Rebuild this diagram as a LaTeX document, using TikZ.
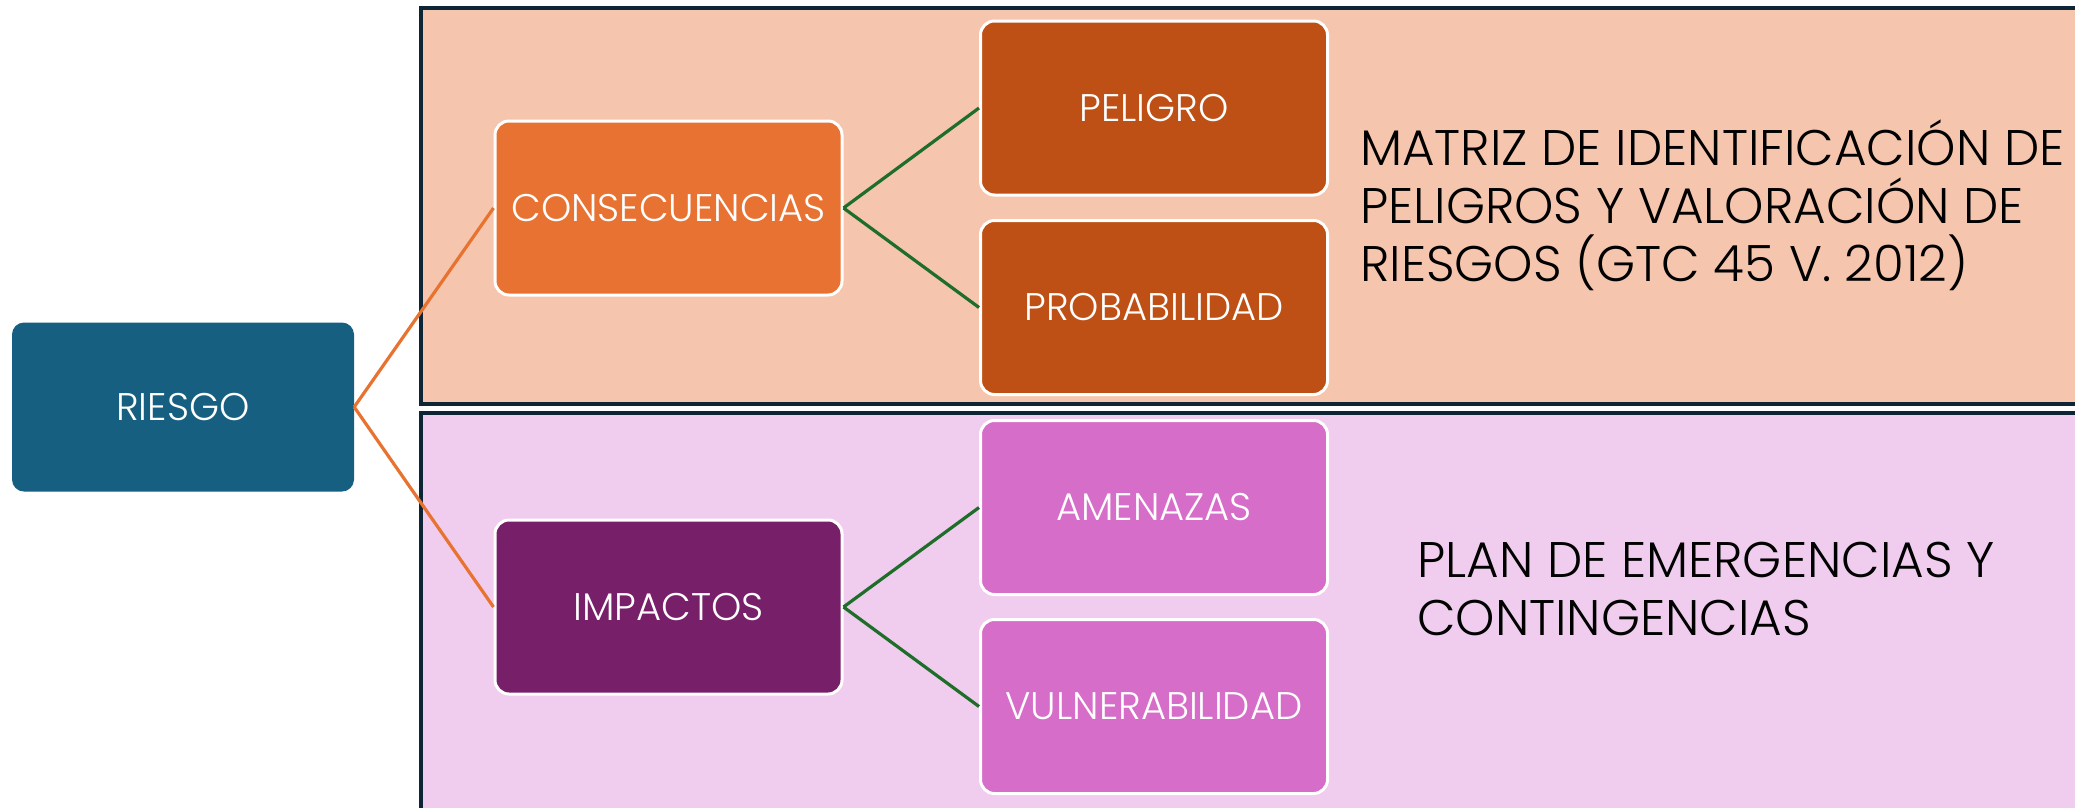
\documentclass[tikz,border=0pt]{standalone}
\usepackage{fontspec}
\IfFontExistsTF{Poppins Light}{\setmainfont{Poppins Light}}{\setmainfont{Poppins}}
\definecolor{peachbg}{HTML}{F5C6AD}
\definecolor{pinkbg}{HTML}{F0CDEE}
\definecolor{panelline}{HTML}{0E2536}
\definecolor{rootfill}{HTML}{175F80}
\definecolor{consfill}{HTML}{E87232}
\definecolor{rustfill}{HTML}{BE4F15}
\definecolor{plumfill}{HTML}{771F69}
\definecolor{orchidfill}{HTML}{D66DC8}
\definecolor{orangeline}{HTML}{E8722F}
\definecolor{greenline}{HTML}{1E6E2A}
\begin{document}
\begin{tikzpicture}[x=1pt,y=-1pt,
  panel/.style={draw=panelline, line width=4pt},
  rootbox/.style={rounded corners=12pt, fill=rootfill, minimum width=342pt, minimum height=169pt, inner sep=0pt, text=white, font=\fontsize{38.5}{40}\selectfont},
  box/.style={rounded corners=14pt, draw=white, line width=3pt, minimum width=347pt, minimum height=174pt, inner sep=0pt, text=white, font=\fontsize{38.5}{40}\selectfont},
  orangelink/.style={draw=orangeline, line width=3.2pt},
  greenlink/.style={draw=greenline, line width=3.2pt},
  sidetext/.style={anchor=base west, inner sep=0pt, text=black, font=\fontsize{50}{58}\selectfont}]
\useasboundingbox (0,0) rectangle (2075,807);
\clip (0,0) rectangle (2075,807);
\fill[white] (0,0) rectangle (2075,807);
\draw[panel, fill=peachbg] (421,8) rectangle (2100,404);
\draw[panel, fill=pinkbg] (421,413) rectangle (2100,830);

\node[rootbox] (riesgo) at (183,407) {RIESGO};
\node[box, fill=consfill] (cons) at (668.5,208) {CONSECUENCIAS};
\node[box, fill=rustfill] (pel) at (1154,108) {PELIGRO};
\node[box, fill=rustfill] (prob) at (1154,307.5) {PROBABILIDAD};
\node[box, fill=plumfill] (imp) at (668.5,607) {IMPACTOS};
\node[box, fill=orchidfill] (ame) at (1154,507.5) {AMENAZAS};
\node[box, fill=orchidfill] (vul) at (1154,706.5) {VULNERABILIDAD};

\draw[orangelink] (riesgo.east) -- (cons.west);
\draw[orangelink] (riesgo.east) -- (imp.west);
\draw[greenlink] (cons.east) -- (pel.west);
\draw[greenlink] (cons.east) -- (prob.west);
\draw[greenlink] (imp.east) -- (ame.west);
\draw[greenlink] (imp.east) -- (vul.west);

\node[sidetext] (m1) at (1360,165) {MATRIZ DE IDENTIFICACIÓN DE};
\node[sidetext] (m2) at (1360,223) {PELIGROS Y VALORACIÓN DE};
\node[sidetext] (m3) at (1360,281) {RIESGOS (GTC 45 V. 2012)};
\node[sidetext] (p1) at (1417,577) {PLAN DE EMERGENCIAS Y};
\node[sidetext] (p2) at (1417,635) {CONTINGENCIAS};
\end{tikzpicture}
\end{document}
